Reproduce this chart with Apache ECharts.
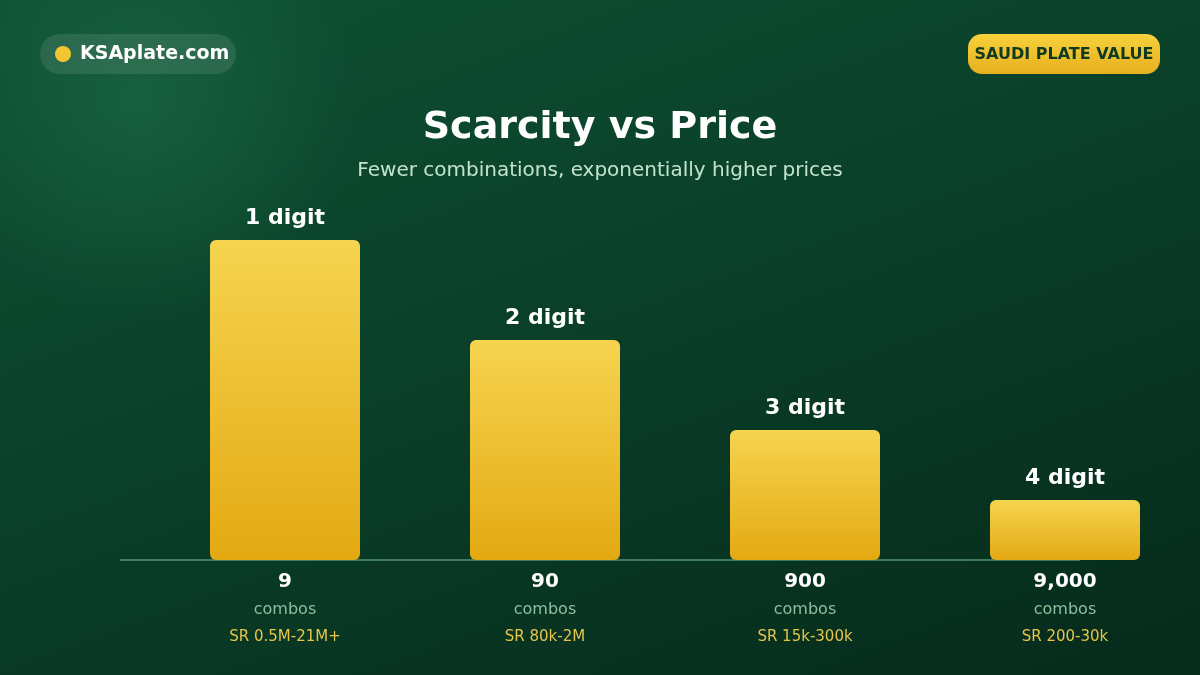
<!DOCTYPE html>
<html lang="en">
  <head>
    <meta charset="UTF-8" />
    <title>Scarcity vs Price</title>
    <style>
      html, body {
        margin: 0;
        padding: 0;
        width: 1200px;
        height: 675px;
        overflow: hidden;
      }
      body {
        background:
          radial-gradient(circle at 140px 100px, rgba(35, 120, 80, 0.45) 0, rgba(35, 120, 80, 0) 220px),
          linear-gradient(160deg, #0e5134 0%, #0a4029 45%, #062a1b 100%);
        font-family: 'DejaVu Sans', sans-serif;
      }
      #main {
        width: 1200px;
        height: 675px;
      }
    </style>
    <script src="https://cdn.jsdelivr.net/npm/echarts@6/dist/echarts.min.js"></script>
  </head>
  <body>
    <div id="main"></div>
    <script>
      // plate tiers
      const categories = ['1 digit', '2 digit', '3 digit', '4 digit']
      const combos = [9, 90, 900, 9000]
      const priceRanges = ['SR 0.5M-21M+', 'SR 80k-2M', 'SR 15k-300k', 'SR 200-30k']
      // relative price level (bar height)
      const priceLevel = [320, 220, 130, 60]

      const font = 'DejaVu Sans'
      const chart = echarts.init(document.getElementById('main'))

      const option = {
        backgroundColor: 'transparent',
        textStyle: { fontFamily: font },
        title: {
          text: 'Scarcity vs Price',
          subtext: 'Fewer combinations, exponentially higher prices',
          left: 'center',
          top: 104,
          itemGap: 14,
          textStyle: { color: '#ffffff', fontSize: 38, fontWeight: 'bold', fontFamily: font },
          subtextStyle: { color: '#c4e3cf', fontSize: 20, fontFamily: font }
        },
        grid: { left: 155, right: 5, top: 200, bottom: 115 },
        xAxis: {
          type: 'category',
          data: categories,
          axisLine: { show: false },
          axisTick: { show: false },
          axisLabel: {
            margin: 8,
            formatter: (v, i) =>
              '{a|' + combos[i].toLocaleString('en-US') + '}\n{b|combos}\n{c|' + priceRanges[i] + '}',
            rich: {
              a: { color: '#ffffff', fontSize: 20, fontWeight: 'bold', lineHeight: 28, fontFamily: font },
              b: { color: '#8fbfa0', fontSize: 16, lineHeight: 27, fontFamily: font },
              c: { color: '#e6c54a', fontSize: 15, lineHeight: 28, fontFamily: font }
            }
          }
        },
        yAxis: {
          type: 'value',
          min: 0,
          max: 360,
          show: false,
          splitLine: { show: false }
        },
        series: [
          {
            type: 'bar',
            data: priceLevel,
            barWidth: 150,
            itemStyle: {
              borderRadius: 6,
              color: new echarts.graphic.LinearGradient(0, 0, 0, 1, [
                { offset: 0, color: '#f6d450' },
                { offset: 1, color: '#e3a912' }
              ])
            },
            label: {
              show: true,
              position: 'top',
              distance: 11,
              formatter: p => categories[p.dataIndex],
              color: '#ffffff',
              fontSize: 22,
              fontWeight: 'bold',
              fontFamily: font
            },
            z: 3
          }
        ],
        graphic: [
          // baseline
          {
            type: 'line',
            shape: { x1: 120, y1: 560, x2: 1080, y2: 560 },
            style: { stroke: 'rgba(110, 180, 140, 0.55)', lineWidth: 2 },
            z: 1
          },
          // logo pill
          {
            type: 'rect',
            shape: { x: 40, y: 34, width: 196, height: 40, r: 20 },
            style: { fill: 'rgba(255, 255, 255, 0.1)' }
          },
          {
            type: 'circle',
            shape: { cx: 63, cy: 54, r: 8 },
            style: { fill: '#f3c531' }
          },
          {
            type: 'text',
            x: 80,
            y: 54,
            style: {
              text: 'KSAplate.com',
              fill: '#ffffff',
              font: 'bold 19px "DejaVu Sans"',
              verticalAlign: 'middle'
            }
          },
          // badge
          {
            type: 'rect',
            shape: { x: 968, y: 34, width: 192, height: 40, r: 14 },
            style: {
              fill: new echarts.graphic.LinearGradient(0, 0, 0, 1, [
                { offset: 0, color: '#f6d13c' },
                { offset: 1, color: '#e8af1f' }
              ])
            }
          },
          {
            type: 'text',
            x: 1064,
            y: 55,
            style: {
              text: 'SAUDI PLATE VALUE',
              fill: '#0f3a22',
              font: 'bold 16px "DejaVu Sans"',
              align: 'center',
              verticalAlign: 'middle'
            }
          }
        ]
      }

      chart.setOption(option)
    </script>
  </body>
</html>
